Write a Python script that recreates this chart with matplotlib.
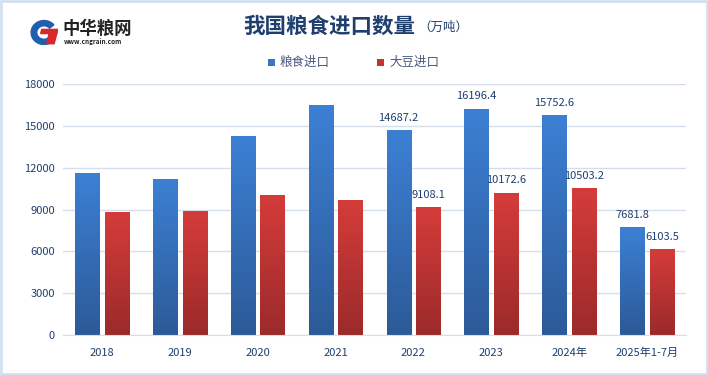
import matplotlib
matplotlib.use('Agg')
import matplotlib.pyplot as plt
import numpy as np
from matplotlib.patches import Rectangle, Wedge, Polygon
from matplotlib.colors import LinearSegmentedColormap

plt.rcParams['font.family'] = ['Noto Sans CJK SC', 'DejaVu Sans']

# data (万吨)
years = ['2018', '2019', '2020', '2021', '2022', '2023', '2024年', '2025年1-7月']
grain = [11555, 11144, 14262, 16454, 14687.2, 16196.4, 15752.6, 7681.8]
soy = [8803, 8851, 10033, 9652, 9108.1, 10172.6, 10503.2, 6103.5]
grain_labels = ['', '', '', '', '14687.2', '16196.4', '15752.6', '7681.8']
soy_labels = ['', '', '', '', '9108.1', '10172.6', '10503.2', '6103.5']
yticks = [0, 3000, 6000, 9000, 12000, 15000, 18000]

text_col = '#1f3f6e'
blue_map = LinearSegmentedColormap.from_list('b', ['#2c5a98', '#3c80d4'])
red_map = LinearSegmentedColormap.from_list('r', ['#9c2a2a', '#d43c3a'])

fig = plt.figure(figsize=(7.08, 3.75), dpi=100)
ax = fig.add_axes([63/708, 1-335/375, 623/708, 251/375])

x = np.arange(len(years))
w = 0.31
off = 0.19
grad = np.linspace(0, 1, 100).reshape(-1, 1)

for i in range(len(years)):
    for val, dx, cmap in [(grain[i], -off, blue_map), (soy[i], off, red_map)]:
        ax.imshow(grad, cmap=cmap, origin='lower', aspect='auto',
                  extent=(x[i]+dx-w/2, x[i]+dx+w/2, 0, val), zorder=2)

for i in range(len(years)):
    if grain_labels[i]:
        ax.text(x[i]-off, grain[i]+550, grain_labels[i], ha='center', va='bottom',
                fontsize=8, color=text_col)
    if soy_labels[i]:
        ax.text(x[i]+off, soy[i]+550, soy_labels[i], ha='center', va='bottom',
                fontsize=8, color=text_col)

ax.set_xlim(-0.5, len(years)-0.5)
ax.set_ylim(0, 18000)
ax.set_yticks(yticks)
ax.set_xticks(x)
ax.set_xticklabels(years)
ax.grid(axis='y', color='#d5dfec', linewidth=1)
ax.set_axisbelow(True)
for s in ['top', 'right', 'left']:
    ax.spines[s].set_visible(False)
ax.spines['bottom'].set_color('#d5dfec')
ax.tick_params(length=0, colors=text_col, labelsize=8)
ax.tick_params(axis='x', pad=9)
ax.tick_params(axis='y', pad=6)

# title
fig.text(415/708, 1-26/375, '我国粮食进口数量', ha='right', va='center',
         fontsize=15.5, fontweight='bold', color=text_col)
fig.text(418/708, 1-27/375, '（万吨）', ha='left', va='center', fontsize=9, color=text_col)

# legend
fig.patches.append(Rectangle((268/708, 1-66/375), 7/708, 7/375, transform=fig.transFigure,
                             facecolor='#3a76c4', edgecolor='none'))
fig.text(280/708, 1-62/375, '粮食进口', ha='left', va='center', fontsize=9, color='#4a5a80')
fig.patches.append(Rectangle((377/708, 1-66/375), 7/708, 7/375, transform=fig.transFigure,
                             facecolor='#c03434', edgecolor='none'))
fig.text(389/708, 1-62/375, '大豆进口', ha='left', va='center', fontsize=9, color='#4a5a80')

# logo
lax = fig.add_axes([30/708, 1-45/375, 28/708, 26/375])
lax.set_xlim(0, 1)
lax.set_ylim(0, 1)
lax.axis('off')
lax.add_patch(Wedge((0.5, 0.48), 0.46, 40, 330, width=0.2, color='#1f5fae'))
lax.add_patch(Polygon([[0.42, 0.6], [1.0, 0.6], [0.86, 0.05], [0.6, 0.05], [0.68, 0.44], [0.38, 0.44]],
                      color='#d8282a'))
fig.text(62/708, 1-29/375, '中华粮网', ha='left', va='center', fontsize=12.5,
         fontweight='bold', color='#222222')
fig.text(64/708, 1-41.5/375, 'www.cngrain.com', ha='left', va='center', fontsize=4.6,
         fontweight='bold', color='#222222')

# border
fig.patches.append(Rectangle((0.002, 0.003), 0.996, 0.994, transform=fig.transFigure,
                             fill=False, edgecolor='#d0e0f0', linewidth=2))

fig.savefig('out.png', dpi=100)
